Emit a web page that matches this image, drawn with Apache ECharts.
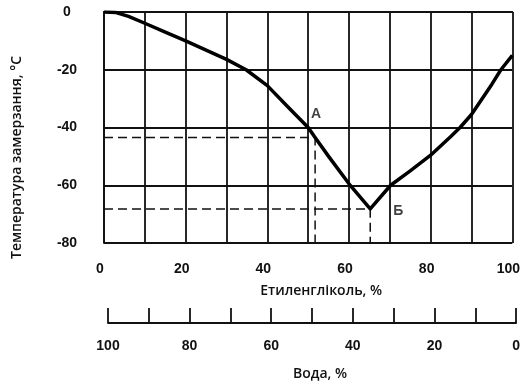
<!DOCTYPE html>
<html>
<head>
<meta charset="utf-8">
<script src="https://cdn.jsdelivr.net/npm/echarts@6/dist/echarts.min.js"></script>
<style>
html,body{margin:0;padding:0;background:#fff;}
#chart{width:523px;height:383px;}
</style>
</head>
<body>
<div id="chart"></div>
<script>
// вміст етиленгліколю, % і температура замерзання, °С
var glycol = [0, 3, 6, 10, 15, 20, 25, 30, 34.8, 40, 45, 50, 51.7, 55, 60, 65.2, 70.2, 75, 80, 85, 87.2, 90, 95, 97.2, 100];
var temp = [0, -0.2, -1.5, -3.9, -7, -10, -13.2, -16.4, -20, -25.5, -32.8, -40, -43.5, -50, -59.5, -68.2, -60, -55, -49.6, -43, -40, -35.5, -25, -20, -15];

// точки А і Б
var pointNames = ['А', 'Б'];
var pointX = [51.7, 65.2];
var pointY = [-43.5, -68.2];

var xTicks = [0, 20, 40, 60, 80, 100];
var yTicks = [0, -20, -40, -60, -80];
var waterTicks = [100, 80, 60, 40, 20, 0];

var curve = [];
for (var i = 0; i < glycol.length; i++) {
    curve.push([glycol[i], temp[i]]);
}

var dashA = [[0, pointY[0]], [pointX[0], pointY[0]], [pointX[0], yTicks[4]]];
var dashB = [[0, pointY[1]], [pointX[1], pointY[1]], [pointX[1], yTicks[4]]];

var ink = '#111';
var tickFont = {color: ink, fontSize: 14, fontWeight: 'bold', fontFamily: 'Liberation Sans, Arial, sans-serif'};
var nameFont = {color: ink, fontSize: 14, fontWeight: 600, fontFamily: 'Open Sans, sans-serif'};

var chart = echarts.init(document.getElementById('chart'), null, {renderer: 'canvas'});

var option = {
    backgroundColor: '#fff',
    animation: false,
    grid: [
        {left: 104, top: 12, width: 410, height: 231},
        {left: 108, top: 300, width: 412, height: 23}
    ],
    xAxis: [
        {
            gridIndex: 0,
            type: 'value',
            min: 0,
            max: 100,
            interval: 10,
            name: 'Етиленгліколь, %',
            nameLocation: 'middle',
            nameGap: 41,
            nameTextStyle: Object.assign({padding: [0, 0, 0, 26]}, nameFont),
            axisLine: {show: true, lineStyle: {color: ink, width: 1.8}},
            axisTick: {show: false},
            axisLabel: Object.assign({
                interval: 1,
                margin: 19,
                padding: [0, 8, 0, 0],
                formatter: function (v) { return xTicks.indexOf(v) >= 0 ? v : ''; }
            }, tickFont),
            splitLine: {show: true, lineStyle: {color: ink, width: 1.8}}
        },
        {
            gridIndex: 1,
            type: 'value',
            min: 0,
            max: 100,
            interval: 10,
            inverse: true,
            name: 'Вода, %',
            nameLocation: 'middle',
            nameGap: 44,
            nameTextStyle: Object.assign({padding: [0, 0, 0, 16]}, nameFont),
            axisLine: {show: true, lineStyle: {color: ink, width: 1.8}},
            axisTick: {show: true, inside: true, length: 15, lineStyle: {color: ink, width: 1.8}},
            axisLabel: Object.assign({
                interval: 1,
                margin: 16,
                formatter: function (v) { return waterTicks.indexOf(v) >= 0 ? v : ''; }
            }, tickFont),
            splitLine: {show: false}
        }
    ],
    yAxis: [
        {
            gridIndex: 0,
            type: 'value',
            min: -80,
            max: 0,
            interval: 20,
            name: 'Температура замерзання, °С',
            nameLocation: 'middle',
            nameRotate: 90,
            nameGap: 80,
            nameTextStyle: Object.assign({padding: [0, 60, 0, 0]}, nameFont),
            axisLine: {show: true, lineStyle: {color: ink, width: 1.8}},
            axisTick: {show: false},
            axisLabel: Object.assign({
                align: 'center',
                margin: 37,
                padding: [0, 0, 8, 0],
                formatter: function (v) { return yTicks.indexOf(v) >= 0 ? v : ''; }
            }, tickFont),
            splitLine: {show: true, lineStyle: {color: ink, width: 1.8}}
        },
        {
            gridIndex: 1,
            type: 'value',
            min: 0,
            max: 1,
            show: false
        }
    ],
    series: [
        {
            name: 'dashA',
            type: 'line',
            data: dashA,
            symbol: 'none',
            silent: true,
            lineStyle: {color: ink, width: 1.5, type: [9, 5]}
        },
        {
            name: 'dashB',
            type: 'line',
            data: dashB,
            symbol: 'none',
            silent: true,
            lineStyle: {color: ink, width: 1.5, type: [9, 5]}
        },
        {
            name: 'freeze',
            type: 'line',
            data: curve,
            symbol: 'none',
            lineStyle: {color: '#000', width: 3.5, join: 'round'}
        },
        {
            name: 'points',
            type: 'scatter',
            symbolSize: 0,
            data: [
                {value: [pointX[0], pointY[0]], label: {offset: [1, -23]}},
                {value: [pointX[1], pointY[1]], label: {offset: [28, 2]}}
            ],
            label: {
                show: true,
                position: 'inside',
                color: ink,
                fontSize: 14,
                fontWeight: 'bold',
                fontFamily: 'Liberation Sans, Arial, sans-serif',
                formatter: function (p) { return pointNames[p.dataIndex]; }
            }
        }
    ]
};

chart.setOption(option);
</script>
</body>
</html>
